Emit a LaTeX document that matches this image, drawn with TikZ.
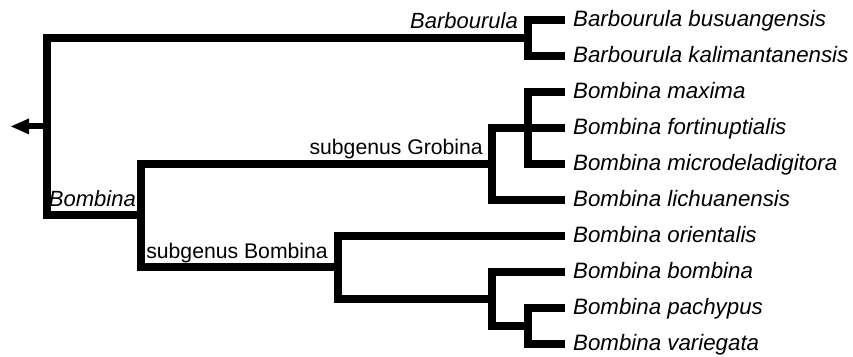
\documentclass[tikz,border=0pt]{standalone}
\usepackage{fontspec}
\setmainfont{Liberation Sans}
\begin{document}
\begin{tikzpicture}[x=1pt,y=-1pt,
  br/.style={line width=8pt, line join=miter, line cap=butt},
  leaf/.style={anchor=base west, inner sep=0pt, font=\fontsize{22.3}{26}\selectfont\itshape},
  clade/.style={anchor=base east, inner sep=0pt, font=\fontsize{22}{26}\selectfont\itshape},
  subg/.style={anchor=base east, inner sep=0pt, font=\fontsize{21.2}{26}\selectfont}]
\useasboundingbox (0,0) rectangle (853,356);
% leaf line ends
\foreach \i/\y in {1/19.5,2/55.5,3/91.5,4/127.5,5/163.5,6/199.5,7/235.5,8/271.5,9/307.5,10/343.5}{
  \coordinate (e\i) at (565,\y);
}
% internal nodes
\coordinate (nBarb) at (528,37.5);
\coordinate (nMax) at (528,127.5);
\coordinate (nGrob) at (492,163.5);
\coordinate (nPV) at (528,325.5);
\coordinate (nBPV) at (492,298.5);
\coordinate (nSubB) at (337.5,267);
\coordinate (nBomb) at (141,215.25);
\coordinate (nRoot) at (47,126.4);
\coordinate (abase) at (29,126.4);
\coordinate (tip) at (11,126.4);
% leaf labels
\node[leaf] (t1) at (573,26.5) {Barbourula busuangensis};
\node[leaf] (t2) at (573,62.5) {Barbourula kalimantanensis};
\node[leaf] (t3) at (573,98.5) {Bombina maxima};
\node[leaf] (t4) at (573,134.5) {Bombina fortinuptialis};
\node[leaf] (t5) at (573,170.5) {Bombina microdeladigitora};
\node[leaf] (t6) at (573,206.5) {Bombina lichuanensis};
\node[leaf] (t7) at (573,242.5) {Bombina orientalis};
\node[leaf] (t8) at (573,278.5) {Bombina bombina};
\node[leaf] (t9) at (573,314.5) {Bombina pachypus};
\node[leaf] (t10) at (573,350.5) {Bombina variegata};
% clade labels
\node[clade] (lBarb) at (518,28.5) {Barbourula};
\node[subg] (lGrob) at (483,154.5) {subgenus Grobina};
\node[clade] (lBomb) at (136,206) {Bombina};
\node[subg] (lSubB) at (328,258) {subgenus Bombina};
% branches
\draw[br] (e1) -| (nBarb) |- (e2);
\draw[br] (e3) -| (nMax) |- (e5);
\draw[br] (nMax) -- (e4);
\draw[br] (nMax) -| (nGrob) |- (e6);
\draw[br] (e9) -| (nPV) |- (e10);
\draw[br] (e8) -| (nBPV) |- (nPV);
\draw[br] (e7) -| (nSubB) |- (nBPV);
\draw[br] (nGrob) -| (nBomb) |- (nSubB);
\draw[br] (nBarb) -| (nRoot) |- (nBomb);
% root stub and arrowhead
\draw[line width=6pt] (nRoot) -- (abase);
\fill (tip) -- ([yshift=-8pt]abase) -- ([yshift=8pt]abase) -- cycle;
\end{tikzpicture}
\end{document}
